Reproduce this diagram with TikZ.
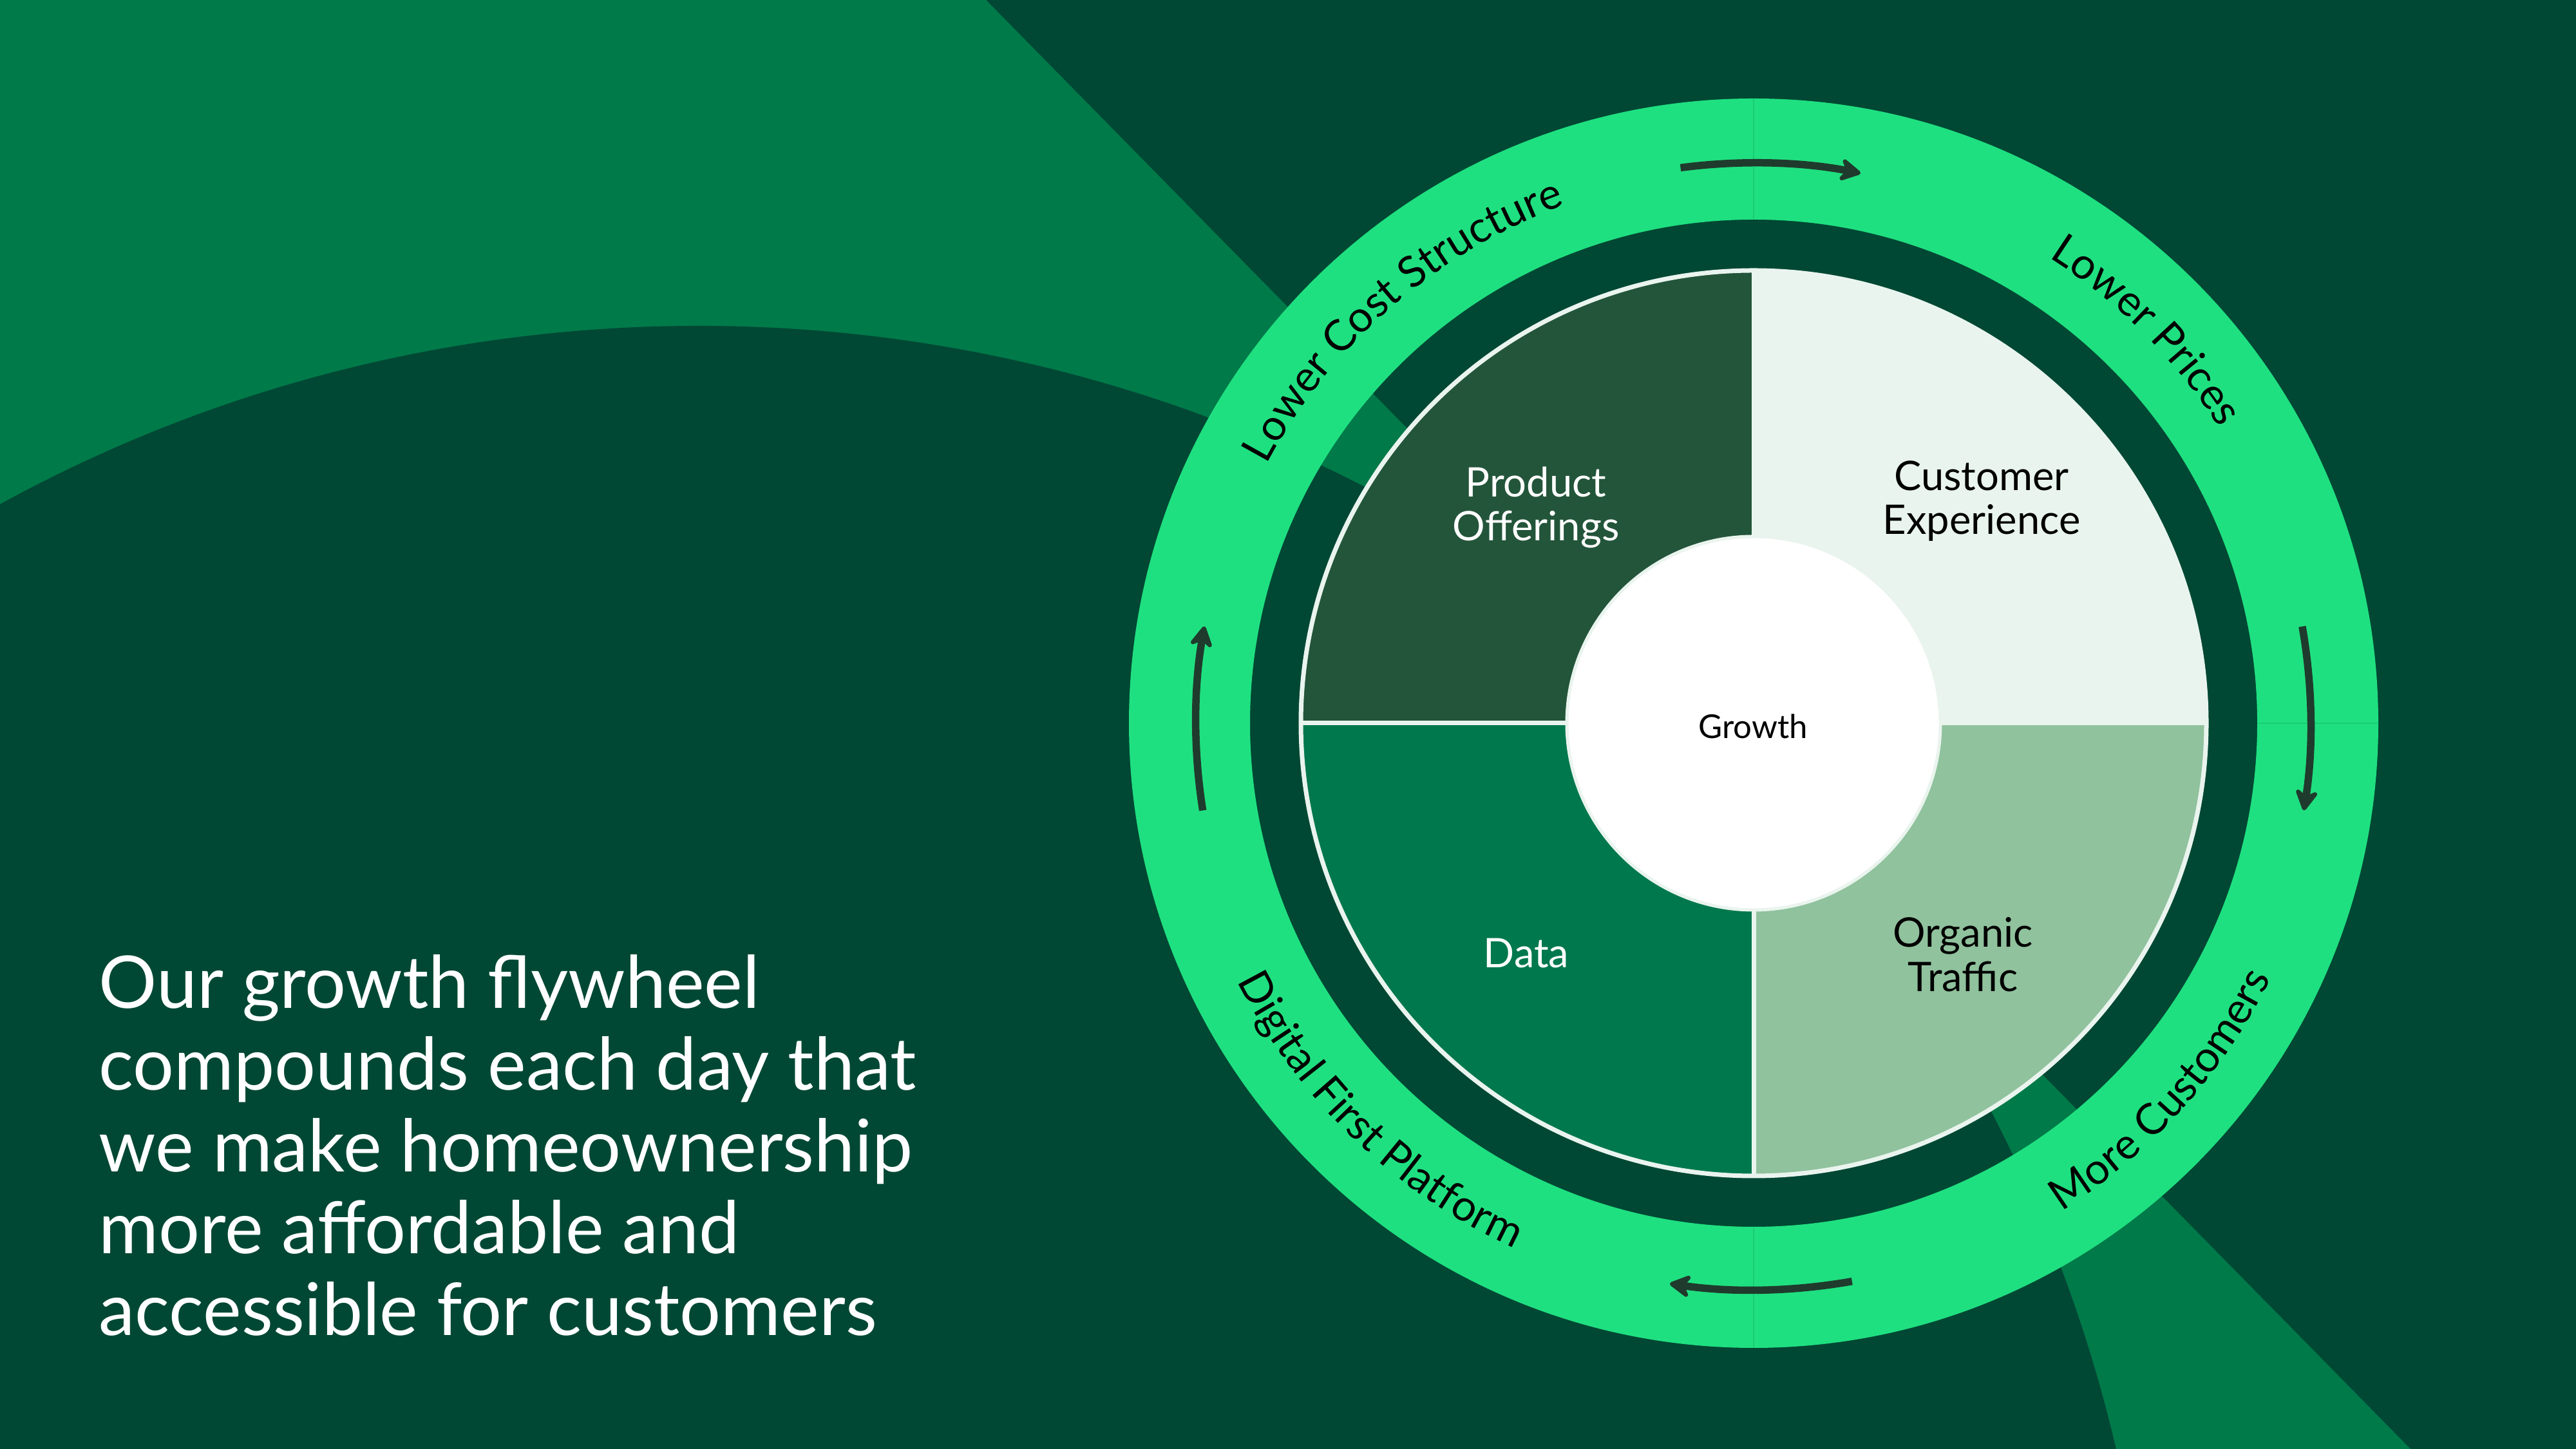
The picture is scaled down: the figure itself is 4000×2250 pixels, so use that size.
\documentclass[tikz,border=0pt]{standalone}
\usepackage{fontspec}
\setmainfont{Lato}
\usetikzlibrary{decorations.text, arrows.meta}
\definecolor{bgdark}{HTML}{014834}
\definecolor{bglight}{HTML}{007A49}
\definecolor{ringgreen}{HTML}{1FE080}
\definecolor{seamgreen}{HTML}{19CC74}
\definecolor{prodcol}{HTML}{23553A}
\definecolor{custcol}{HTML}{EAF4EE}
\definecolor{orgcol}{HTML}{90C29D}
\definecolor{datacol}{HTML}{00784D}
\definecolor{arrowcol}{HTML}{1F3B2D}
\definecolor{linecol}{HTML}{EAF4EE}
\newcommand\ringfont{\fontsize{19}{22}\selectfont}
\tikzset{
  maintext/.style={anchor=base west, inner sep=0pt, text=white, font=\fontsize{32.1}{36}\selectfont},
  pielabel/.style={align=center, inner sep=0pt, font=\fontsize{18}{19.6}\selectfont},
  flowarrow/.style={draw=arrowcol, line width=1.15mm, -{Stealth[length=4mm, width=4.4mm, inset=1.4mm, round]}},
  pieline/.style={draw=linecol, line width=0.7mm},
  seam/.style={draw=seamgreen, line width=0.15mm},
}
\begin{document}
\begin{tikzpicture}[x=0.1mm, y=0.1mm]
\useasboundingbox (0,0) rectangle (4000,2250);
% background
\fill[bgdark] (0,0) rectangle (4000,2250);
\fill[bglight] (0,2250) -- (1531,2250) -- (3743,0) -- (0,0) -- cycle;
\fill[bgdark] (1085,-516) circle[radius=2260];
% centre
\coordinate (C) at (2723,1127);
% ring
\fill[ringgreen, even odd rule] (C) circle[radius=970] (C) circle[radius=782];
\draw[seam] ([shift={(C)}]90:783) -- ([shift={(C)}]90:969);
\draw[seam] ([shift={(C)}]270:783) -- ([shift={(C)}]270:969);
\draw[seam] ([shift={(C)}]0:783) -- ([shift={(C)}]0:969);
% pie quadrants
\fill[prodcol] (C) -- ([shift={(C)}]90:703) arc[start angle=90, end angle=180, radius=703] -- cycle;
\fill[custcol] (C) -- ([shift={(C)}]0:703) arc[start angle=0, end angle=90, radius=703] -- cycle;
\fill[orgcol] (C) -- ([shift={(C)}]270:703) arc[start angle=270, end angle=360, radius=703] -- cycle;
\fill[datacol] (C) -- ([shift={(C)}]180:703) arc[start angle=180, end angle=270, radius=703] -- cycle;
\draw[pieline] (C) circle[radius=703];
\draw[pieline] ([shift={(C)}]180:703) -- ([shift={(C)}]0:703);
\draw[pieline] ([shift={(C)}]90:703) -- ([shift={(C)}]270:703);
\fill[white, draw=linecol, line width=0.5mm] (C) circle[radius=290];
% pie labels
\node[pielabel, text=white] (prod) at (2385,1462) {Product\\Offerings};
\node[pielabel, text=black] (cust) at (3077,1472) {Customer\\Experience};
\node[pielabel, text=black] (org) at (3048,768) {Organic\\Traffic};
\node[pielabel, text=white] (data) at (2370,770) {Data};
\node[inner sep=0pt, font=\fontsize{14.5}{16}\selectfont, text=black] (growth) at (2722,1122) {Growth};
% ring texts
\path[decorate, decoration={text along path, text={|\ringfont|Lower Cost Structure}, text align=center}]
  ([shift={(C)}]171:856) arc[start angle=171, end angle=91, radius=856];
\path[decorate, decoration={text along path, text={|\ringfont|Lower Prices}, text align=center}]
  ([shift={(C)}]85:856) arc[start angle=85, end angle=5, radius=856];
\path[decorate, decoration={text along path, text={|\ringfont|More Customers}, text align=center}]
  ([shift={(C)}]-82:896) arc[start angle=-82, end angle=-2, radius=896];
\path[decorate, decoration={text along path, text={|\ringfont|Digital First Platform}, text align=center}]
  ([shift={(C)}]186:896) arc[start angle=186, end angle=266, radius=896];
% arrows
\draw[flowarrow] ([shift={(C)}]97.5:870) arc[start angle=97.5, end angle=79, radius=870];
\draw[flowarrow] ([shift={(C)}]10:865) arc[start angle=10, end angle=-9, radius=865];
\draw[flowarrow] ([shift={(C)}]-80:880) arc[start angle=-80, end angle=-98.5, radius=880];
\draw[flowarrow] ([shift={(C)}]189:866) arc[start angle=189, end angle=170, radius=866];
% main text
\node[maintext] (t1) at (153,684) {Our growth flywheel};
\node[maintext] (t2) at (153,557) {compounds each day that};
\node[maintext] (t3) at (153,430) {we make homeownership};
\node[maintext] (t4) at (153,303) {more affordable and};
\node[maintext] (t5) at (153,176) {accessible for customers};
\end{tikzpicture}
\end{document}
